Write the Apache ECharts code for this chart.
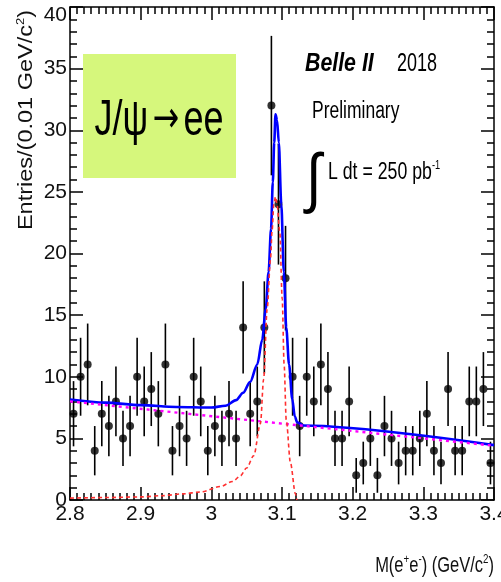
<!DOCTYPE html>
<html>
<head>
<meta charset="utf-8">
<script src="https://cdn.jsdelivr.net/npm/echarts@6/dist/echarts.min.js"></script>
<style>
  html, body { margin: 0; padding: 0; background: #fff; }
  #chart { width: 501px; height: 582px; }
</style>
</head>
<body>
<div id="chart"></div>
<script>
// histogram: 0.01 GeV bins from 2.80 to 3.40
const binLow = 2.8
const binWidth = 0.01
const counts = [
  7, 10, 11, 4, 7, 6, 8, 5, 6, 10,
  8, 9, 7, 11, 4, 6, 5, 10, 8, 4,
  6, 5, 7, 5, 14, 7, 8, 14, 32, 24,
  18, 10, 6, 10, 8, 11, 9, 5, 5, 8,
  2, 3, 5, 2, 6, 5, 3, 4, 4, 5,
  7, 4, 3, 9, 4, 4, 8, 8, 9, 3
]

// total fit (blue)
const fitMass = [2.80, 2.85, 2.90, 2.95, 3.00, 3.02, 3.035, 3.045, 3.055, 3.065, 3.072, 3.077, 3.081, 3.0845, 3.087, 3.089, 3.0908, 3.093, 3.0955, 3.099, 3.1026, 3.106, 3.110, 3.1145, 3.118, 3.1216, 3.13, 3.40]
const fitTotal = [8.15, 7.9, 7.7, 7.55, 7.5, 7.65, 8.1, 8.7, 9.6, 11.0, 13.0, 15.5, 18.5, 22.0, 25.8, 29.0, 31.3, 30.8, 29.0, 24.0, 18.5, 14.0, 11.0, 8.2, 6.8, 6.3, 6.05, 4.45]

// signal component (red dashed)
const sigMass = [2.80, 2.85, 2.90, 2.93, 2.96, 2.985, 3.013, 3.03, 3.041, 3.05, 3.06, 3.0695, 3.074, 3.079, 3.0837, 3.086, 3.0885, 3.0908, 3.093, 3.0969, 3.1003, 3.103, 3.106, 3.112, 3.119, 3.121]
const sigValues = [0.15, 0.2, 0.25, 0.35, 0.5, 0.65, 1.1, 1.5, 1.95, 2.6, 3.6, 6.2, 9.8, 15.5, 19.5, 21.9, 24.0, 24.6, 24.0, 21.7, 16.3, 11.0, 6.5, 3.0, 0.5, 0]

// background component (magenta dotted)
const bkgMass = [2.8, 3.4]
const bkgValues = [8.0, 4.4]

const xTicks = { min: 2.8, max: 3.4, step: 0.1 }
const yTicks = { min: 0, max: 40, step: 5 }

const FONT = '"Liberation Sans Narrow", "Liberation Sans", Arial, sans-serif'
const TEXT_FONT = '"Liberation Sans", Arial, sans-serif'

const histData = counts.map((n, i) => [binLow + binWidth * (i + 0.5), n])
const pairs = (xs, ys) => xs.map((x, i) => [x, ys[i]])

const chart = echarts.init(document.getElementById('chart'), null, { renderer: 'canvas' })

const axisCommon = {
  type: 'value',
  axisLine: { show: true, onZero: false, lineStyle: { color: '#000', width: 1.5 } },
  axisTick: { show: true, inside: true, length: 13, lineStyle: { color: '#000', width: 1.5 } },
  minorTick: { show: true, length: 7, lineStyle: { color: '#000', width: 1.5 } },
  splitLine: { show: false },
}

const option = {
  animation: false,
  backgroundColor: '#fff',
  grid: { left: 70, right: 7, top: 7, bottom: 82, outerBoundsMode: 'none', containLabel: false },
  xAxis: [
    {
      ...axisCommon,
      position: 'bottom',
      min: xTicks.min, max: xTicks.max, interval: xTicks.step,
      minorTick: { ...axisCommon.minorTick, splitNumber: 10 },
      axisLabel: {
        color: '#111', fontFamily: FONT, fontSize: 21, margin: 4,
        formatter: v => String(Math.round(v * 10) / 10),
      },
    },
    {
      ...axisCommon,
      position: 'top',
      min: xTicks.min, max: xTicks.max, interval: xTicks.step,
      minorTick: { ...axisCommon.minorTick, splitNumber: 10 },
      axisLabel: { show: false },
    },
  ],
  yAxis: [
    {
      ...axisCommon,
      position: 'left',
      min: yTicks.min, max: yTicks.max, interval: yTicks.step,
      minorTick: { ...axisCommon.minorTick, splitNumber: 5 },
      axisLabel: {
        color: '#111', fontFamily: FONT, fontSize: 21, margin: 3,
        // top label sits just below the frame
        formatter: v => (v === yTicks.max ? '{top|' + v + '}' : String(v)),
        rich: { top: { fontFamily: FONT, fontSize: 21, color: '#111', padding: [16, 0, 0, 0] } },
      },
    },
    {
      ...axisCommon,
      position: 'right',
      min: yTicks.min, max: yTicks.max, interval: yTicks.step,
      minorTick: { ...axisCommon.minorTick, splitNumber: 5 },
      axisLabel: { show: false },
    },
  ],
  graphic: [
    { type: 'rect', shape: { x: 83, y: 54, width: 153, height: 124 }, style: { fill: '#d6f77c' }, z: 1 },
    {
      type: 'text', x: 159, y: 121, scaleX: 0.72, z: 2,
      style: {
        text: '{n|J/ψ}{a|→}{n|ee}', align: 'center', verticalAlign: 'middle',
        rich: {
          n: { fontFamily: TEXT_FONT, fontSize: 50, fill: '#000', lineHeight: 56 },
          a: { fontFamily: '"DejaVu Sans", sans-serif', fontSize: 44, fill: '#000', lineHeight: 56, padding: [0, 6, 0, 6] },
        },
      },
    },
    {
      type: 'text', x: 305, y: 64, scaleX: 0.82,
      style: { text: 'Belle II', fontFamily: TEXT_FONT, fontSize: 26, fontWeight: 'bold', fontStyle: 'italic', fill: '#000', verticalAlign: 'middle' },
    },
    {
      type: 'text', x: 397, y: 64, scaleX: 0.72,
      style: { text: '2018', fontFamily: TEXT_FONT, fontSize: 25, fill: '#000', verticalAlign: 'middle' },
    },
    {
      type: 'text', x: 312, y: 112, scaleX: 0.76,
      style: { text: 'Preliminary', fontFamily: TEXT_FONT, fontSize: 23, fill: '#000', verticalAlign: 'middle' },
    },
    {
      type: 'text', x: 306, y: 182, scaleX: 0.85,
      style: { text: '∫', fontFamily: TEXT_FONT, fontSize: 66, fill: '#000', verticalAlign: 'middle' },
    },
    {
      type: 'text', x: 328, y: 173, scaleX: 0.77,
      style: {
        text: '{n|L dt = 250 pb}{s|-1}',
        verticalAlign: 'middle',
        rich: {
          n: { fontFamily: TEXT_FONT, fontSize: 23, fill: '#000', lineHeight: 26 },
          s: { fontFamily: TEXT_FONT, fontSize: 12, fill: '#000', lineHeight: 14, verticalAlign: 'top' },
        },
      },
    },
    {
      type: 'text', x: 26, y: 10, rotation: Math.PI / 2, scaleY: 0.85,
      style: {
        text: '{n|Entries/(0.01 GeV/c}{s|2}{n|)}',
        align: 'right', verticalAlign: 'middle',
        rich: {
          n: { fontFamily: TEXT_FONT, fontSize: 23.5, fill: '#111', lineHeight: 26 },
          s: { fontFamily: TEXT_FONT, fontSize: 13, fill: '#111', lineHeight: 14, verticalAlign: 'top' },
        },
      },
    },
    {
      type: 'text', x: 494, y: 566, scaleX: 0.75,
      style: {
        text: '{n|M(e}{s|+}{n|e}{s|-}{n|) (GeV/c}{s|2}{n|)}',
        align: 'right', verticalAlign: 'middle',
        rich: {
          n: { fontFamily: TEXT_FONT, fontSize: 22, fill: '#111', lineHeight: 26 },
          s: { fontFamily: TEXT_FONT, fontSize: 13, fill: '#111', lineHeight: 14, verticalAlign: 'top' },
        },
      },
    },
  ],
  series: [
    {
      name: 'errors',
      type: 'custom',
      data: histData,
      z: 2,
      renderItem(params, api) {
        const x = api.value(0)
        const n = api.value(1)
        const e = Math.sqrt(n)
        const top = api.coord([x, n + e])
        const bot = api.coord([x, n - e])
        return {
          type: 'line',
          shape: { x1: top[0], y1: top[1], x2: bot[0], y2: bot[1] },
          style: { stroke: '#000', lineWidth: 1.6 },
        }
      },
    },
    {
      name: 'data',
      type: 'scatter',
      data: histData,
      symbol: 'circle',
      symbolSize: 8,
      itemStyle: { color: '#000' },
      z: 3,
    },
    {
      name: 'fit',
      type: 'line',
      data: pairs(fitMass, fitTotal),
      showSymbol: false,
      smooth: 0.3,
      smoothMonotone: 'x',
      lineStyle: { color: '#0000ff', width: 2.6 },
      z: 4,
    },
    {
      name: 'background',
      type: 'line',
      data: pairs(bkgMass, bkgValues),
      showSymbol: false,
      lineStyle: { color: '#ff00ff', width: 2.4, type: [3, 4] },
      z: 5,
    },
    {
      name: 'signal',
      type: 'line',
      data: pairs(sigMass, sigValues),
      showSymbol: false,
      smooth: 0.3,
      smoothMonotone: 'x',
      lineStyle: { color: '#ff3030', width: 1.6, type: [4, 3] },
      z: 6,
    },
  ],
}

chart.setOption(option)
</script>
</body>
</html>
